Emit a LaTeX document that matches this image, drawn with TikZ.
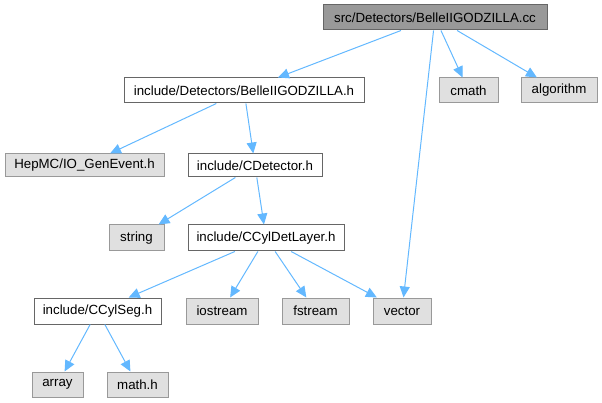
\documentclass[tikz,border=0pt]{standalone}
\usepackage{fontspec}
\setmainfont{Liberation Sans}
\usetikzlibrary{arrows.meta}
\definecolor{edgeblue}{HTML}{63B8FF}
\definecolor{rootfill}{HTML}{999999}
\definecolor{rootline}{HTML}{666666}
\definecolor{extfill}{HTML}{E0E0E0}
\definecolor{extline}{HTML}{999999}

\begin{document}
\begin{tikzpicture}[x=1pt,y=-1pt,
    box/.style={draw, line width=1pt, minimum height=25pt, inner sep=0pt,
      font=\fontsize{13.3}{15}\selectfont},
    rootbox/.style={box, fill=rootfill, draw=rootline},
    incbox/.style={box, fill=white, draw=rootline},
    extbox/.style={box, fill=extfill, draw=extline},
    dep/.style={draw=edgeblue, line width=1pt,
      -{Triangle[length=11pt,width=10pt]}}]
    \useasboundingbox (0,0) rectangle (602,403);
    % nodes
    \node[rootbox, minimum width=224pt] (src) at (435,17.5) {src/Detectors/BelleIIGODZILLA.cc};
    \node[incbox, minimum width=240pt] (godzh) at (244,90.5) {include/Detectors/BelleIIGODZILLA.h};
    \node[extbox, minimum width=59pt] (cmath) at (468.5,90.5) {cmath};
    \node[extbox, minimum width=76pt] (algorithm) at (559,90.5) {algorithm};
    \node[extbox, minimum width=159pt, minimum height=23pt] (hepmc) at (84.5,165.5) {HepMC/IO\_GenEvent.h};
    \node[incbox, minimum width=134pt, minimum height=23pt] (cdet) at (255,165.5) {include/CDetector.h};
    \node[extbox, minimum width=55pt, minimum height=26pt] (string) at (136.5,238) {string};
    \node[incbox, minimum width=156pt, minimum height=26pt] (layer) at (266,238) {include/CCylDetLayer.h};
    \node[incbox, minimum width=127pt, minimum height=26pt] (seg) at (97.5,311) {include/CCylSeg.h};
    \node[extbox, minimum width=72pt, minimum height=26pt] (iostream) at (222,311) {iostream};
    \node[extbox, minimum width=67pt, minimum height=26pt] (fstream) at (315.5,311) {fstream};
    \node[extbox, minimum width=58pt, minimum height=26pt] (vector) at (402,311) {vector};
    \node[extbox, minimum width=51pt] (array) at (57.5,384.5) {array};
    \node[extbox, minimum width=61pt] (mathh) at (137.5,384.5) {math.h};
    % includes
    \draw[dep] (src) -- (godzh);
    \draw[dep] (src) -- (cmath);
    \draw[dep] (src) -- (algorithm);
    \draw[dep] (src) -- (vector);
    \draw[dep] (godzh) -- (hepmc);
    \draw[dep] (godzh) -- (cdet);
    \draw[dep] (cdet) -- (string);
    \draw[dep] (cdet) -- (layer);
    \draw[dep] (layer) -- (seg);
    \draw[dep] (layer) -- (iostream);
    \draw[dep] (layer) -- (fstream);
    \draw[dep] (layer) -- (vector);
    \draw[dep] (seg) -- (array);
    \draw[dep] (seg) -- (mathh);
\end{tikzpicture}
\end{document}
